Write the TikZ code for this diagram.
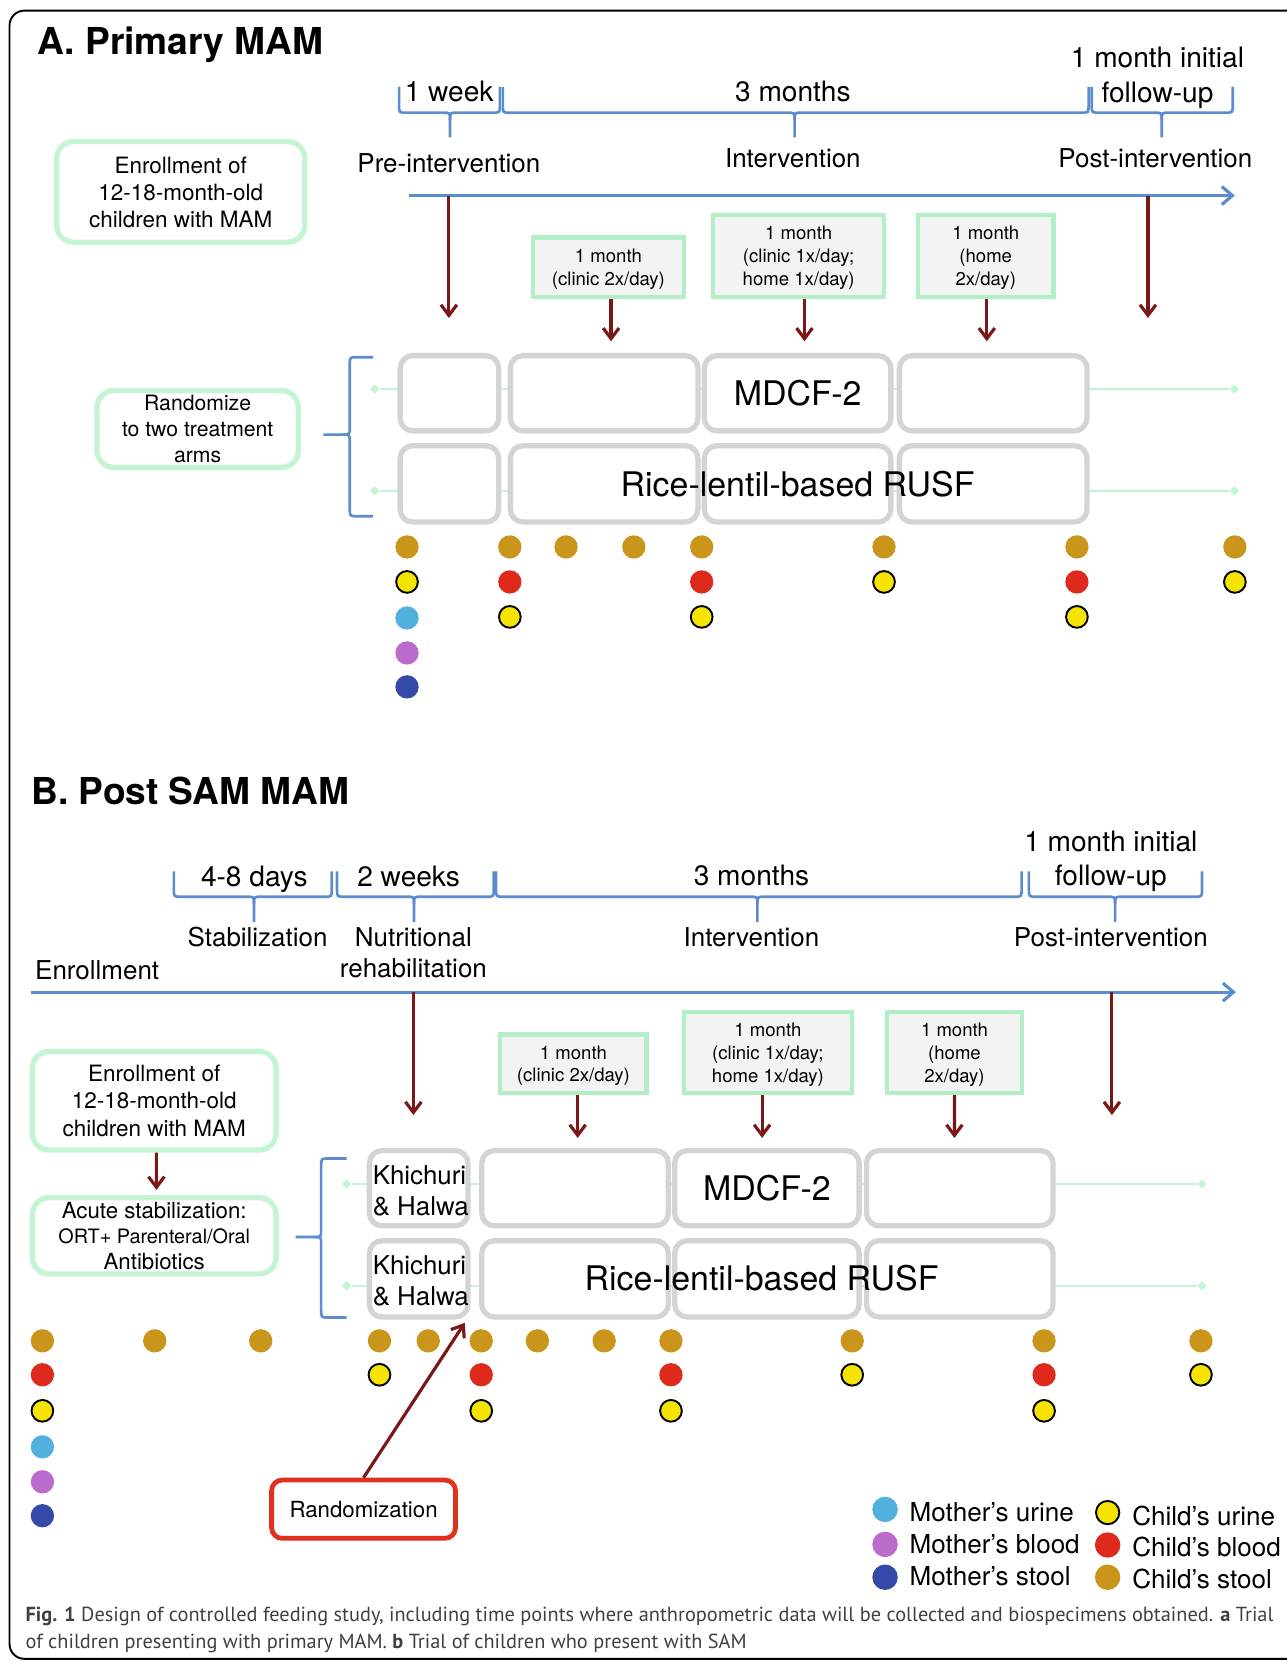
\documentclass[tikz,border=0pt]{standalone}
\usepackage{fontspec}
\setmainfont{TeX Gyre Heros}
\newfontfamily\capfont{PT Sans}
\usetikzlibrary{arrows.meta,shapes.geometric}
\definecolor{bluec}{HTML}{5B8CCB}
\definecolor{darkr}{HTML}{7A1818}
\definecolor{mint}{HTML}{C4F4D3}
\definecolor{mintb}{HTML}{B2EEC6}
\definecolor{boxg}{HTML}{F3F3F3}
\definecolor{greyb}{HTML}{D4D4D4}
\definecolor{gold}{HTML}{C9951A}
\definecolor{redd}{HTML}{DE2A1D}
\definecolor{yel}{HTML}{F5E300}
\definecolor{lblue}{HTML}{52B0DD}
\definecolor{purp}{HTML}{BA6BCB}
\definecolor{dblue}{HTML}{3549A8}
\definecolor{randr}{HTML}{E0301E}
\newcommand{\fz}[2]{\fontsize{#1}{#2}\selectfont}
\newcommand{\hbrace}[6]{%
 \draw[brc] (#1,#4) -- (#1,{#5-7}) .. controls (#1,#5) .. ({#1+7},#5) -- ({#2-7},#5) .. controls (#2,#5) .. (#2,{#5+7}) -- (#2,#6);
 \draw[brc] (#3,#4) -- (#3,{#5-7}) .. controls (#3,#5) .. ({#3-7},#5) -- ({#2+7},#5) .. controls (#2,#5) .. (#2,{#5+7});
}
\newcommand{\vbrace}[6]{%
 \draw[brc] (#1,#4) -- ({#2+7},#4) .. controls (#2,#4) .. (#2,{#4+7}) -- (#2,{#5-7}) .. controls (#2,#5) .. ({#2-7},#5) -- (#3,#5);
 \draw[brc] (#1,#6) -- ({#2+7},#6) .. controls (#2,#6) .. (#2,{#6-7}) -- (#2,{#5+7}) .. controls (#2,#5) .. ({#2-7},#5);
}
\newcommand{\spot}[4]{\node[#2] (#1) at (#3,#4) {};}
\begin{document}
\begin{tikzpicture}[x=1pt,y=-1pt,
 txt/.style={inner sep=0pt, text depth=0pt},
 dur/.style={txt, font=\fz{26.5}{33}, align=center},
 phase/.style={txt, font=\fz{24.5}{29.4}, align=center},
 tl/.style={draw=bluec, line width=3pt, -{Straight Barb[length=10pt,width=17pt]}},
 brc/.style={draw=bluec, line width=2.5pt},
 arr/.style={draw=darkr, line width=3pt, -{Straight Barb[length=10pt,width=15pt]}},
 gline/.style={draw=mint, line width=2pt},
 gdia/.style={diamond, fill=mint, minimum size=9pt, inner sep=0pt},
 tb/.style={draw=greyb, line width=5pt, rounded corners=12pt, fill=white, inner sep=0pt, text depth=0pt, font=\fz{32}{32}},
 mbox/.style={draw=mint, line width=5pt, rounded corners=16pt, fill=white, align=center, inner sep=0pt, text depth=0pt},
 sbox/.style={draw=mintb, line width=4pt, fill=boxg, align=center, inner sep=0pt, text depth=0pt, font=\fz{17.5}{21.5}},
 dotb/.style={circle, minimum size=22pt, inner sep=0pt},
 gd/.style={dotb, fill=gold},
 rd/.style={dotb, fill=redd},
 lb/.style={dotb, fill=lblue},
 pu/.style={dotb, fill=purp},
 db/.style={dotb, fill=dblue},
 yd/.style={dotb, fill=yel, draw=black, line width=1.8pt, minimum size=20.5pt},
 leg/.style={txt, anchor=west, font=\fz{24.6}{24.6}},
 capn/.style={anchor=base west, inner sep=0pt, font=\capfont\fz{19.2}{22}, text=black!75}
]
\useasboundingbox (0,0) rectangle (1214,1568);
\draw[line width=1.8pt, rounded corners=14pt] (9,10) rectangle (1260,1565);

% ---------------- Part A ----------------
\node[txt, anchor=west, font=\fz{35}{35}\bfseries] (titA) at (35,38.3) {A. Primary MAM};

\hbrace{376.5}{424.6}{471.6}{82}{106.3}{129.5}
\hbrace{474.4}{749.7}{1027}{82}{106.3}{129.5}
\hbrace{1030}{1096}{1163}{82}{106.3}{129.5}

\node[dur] (dA1) at (423.7,86.5) {1 week};
\node[dur] (dA2) at (748,86.5) {3 months};
\node[dur] (dA3) at (1092,70.7) {1 month initial\\follow-up};
\node[phase] (pA1) at (423.5,153.5) {Pre-intervention};
\node[phase] (pA2) at (748,149.4) {Intervention};
\node[phase] (pA3) at (1090,149.4) {Post-intervention};

\coordinate (tlA0) at (385.5,184.5);
\coordinate (tlA1) at (1165,184.5);
\draw[tl] (tlA0) -- (tlA1);

\node[mbox, minimum width=234pt, minimum height=95pt, font=\fz{21.2}{25.5}] (eA) at (170.5,181) {Enrollment of\\12-18-month-old\\children with MAM};
\node[mbox, minimum width=190pt, minimum height=72.5pt, font=\fz{20}{24.5}] (rA) at (186.5,404.75) {Randomize\\to two treatment\\arms};

\coordinate (aA1s) at (423.5,184.5);
\coordinate (aA1e) at (423.5,300);
\coordinate (aA2s) at (1083,184.5);
\coordinate (aA2e) at (1083,300);
\draw[arr] (aA1s) -- (aA1e);
\draw[arr] (aA2s) -- (aA2e);

\node[sbox, minimum width=142pt, minimum height=56pt] (sA1) at (574,252) {1 month\\(clinic 2x/day)};
\node[sbox, minimum width=161pt, minimum height=77pt] (sA2) at (753.5,241.5) {1 month\\(clinic 1x/day;\\home 1x/day)};
\node[sbox, minimum width=128pt, minimum height=77pt] (sA3) at (930,241.5) {1 month\\(home\\2x/day)};
\coordinate (eA1) at (576.5,322);
\coordinate (eA2) at (759,322);
\coordinate (eA3) at (931,322);
\draw[arr] ([xshift=2.5pt]sA1.south) -- (eA1);
\draw[arr] ([xshift=5.5pt]sA2.south) -- (eA2);
\draw[arr] ([xshift=1pt]sA3.south) -- (eA3);

\node[gdia] (gA1l) at (353.5,367) {};
\node[gdia] (gA1r) at (1164.6,367) {};
\node[gdia] (gA2l) at (353.5,463) {};
\node[gdia] (gA2r) at (1164.6,463) {};
\draw[gline] (gA1l) -- (gA1r);
\draw[gline] (gA2l) -- (gA2r);

\node[tb, minimum width=93pt, minimum height=71pt] (tA11) at (424,371) {};
\node[tb, minimum width=177pt, minimum height=71pt] (tA12) at (570,371) {};
\node[tb, minimum width=176pt, minimum height=71pt] (tA13) at (752.5,371) {MDCF-2};
\node[tb, minimum width=177pt, minimum height=71pt] (tA14) at (937,371) {};
\node[tb, minimum width=93pt, minimum height=72pt] (tA21) at (424,456.5) {};
\node[tb, minimum width=177pt, minimum height=72pt] (tA22) at (570,456.5) {};
\node[tb, minimum width=176pt, minimum height=72pt] (tA23) at (752.5,456.5) {};
\node[tb, minimum width=177pt, minimum height=72pt] (tA24) at (937,456.5) {};
\node[txt, font=\fz{32}{32}] (riceA) at (752.5,456) {Rice-lentil-based RUSF};

\vbrace{352}{330}{305}{337}{410}{487}

\spot{a11}{gd}{384}{516}
\spot{a12}{yd}{384}{549}
\spot{a13}{lb}{384}{583}
\spot{a14}{pu}{384}{616}
\spot{a15}{db}{384}{648}
\spot{a21}{gd}{481}{516}
\spot{a22}{rd}{481}{549}
\spot{a23}{yd}{481}{582}
\spot{a31}{gd}{534}{516}
\spot{a41}{gd}{598}{516}
\spot{a51}{gd}{662}{516}
\spot{a52}{rd}{662}{549}
\spot{a53}{yd}{662}{582}
\spot{a61}{gd}{834}{516}
\spot{a62}{yd}{834}{549}
\spot{a71}{gd}{1016}{516}
\spot{a72}{rd}{1016}{549}
\spot{a73}{yd}{1016}{582}
\spot{a81}{gd}{1165}{516}
\spot{a82}{yd}{1165}{549}

% ---------------- Part B ----------------
\node[txt, anchor=west, font=\fz{35}{35}\bfseries] (titB) at (29.4,745.8) {B. Post SAM MAM};

\hbrace{164}{239.6}{313}{822}{846}{870}
\hbrace{318}{390.6}{465.8}{822}{846}{870}
\hbrace{468}{714.5}{963.8}{822}{846}{870}
\hbrace{970.7}{1052}{1134}{822}{846}{870}

\node[dur] (dB1) at (240,827) {4-8 days};
\node[dur] (dB2) at (385.5,827) {2 weeks};
\node[dur] (dB3) at (709,825.4) {3 months};
\node[dur, font=\fz{26.5}{32}] (dB4) at (1048,809.4) {1 month initial\\follow-up};
\node[phase] (pB1) at (243,883.6) {Stabilization};
\node[phase] (pB2) at (390,898.3) {Nutritional\\rehabilitation};
\node[phase] (pB3) at (709,883.6) {Intervention};
\node[phase] (pB4) at (1048,883.6) {Post-intervention};
\node[phase, anchor=west] (pB0) at (33,915.6) {Enrollment};

\coordinate (tlB0) at (29,936);
\coordinate (tlB1) at (1166,936);
\draw[tl] (tlB0) -- (tlB1);

\coordinate (aB1s) at (390,936);
\coordinate (aB1e) at (390,1052);
\coordinate (aB2s) at (1049,936);
\coordinate (aB2e) at (1049,1052);
\draw[arr] (aB1s) -- (aB1e);
\draw[arr] (aB2s) -- (aB2e);

\node[sbox, minimum width=138pt, minimum height=55pt] (sB1) at (541,1003.5) {1 month\\(clinic 2x/day)};
\node[sbox, minimum width=159pt, minimum height=76pt] (sB2) at (724.5,993) {1 month\\(clinic 1x/day;\\home 1x/day)};
\node[sbox, minimum width=127pt, minimum height=76pt] (sB3) at (900.5,993) {1 month\\(home\\2x/day)};
\coordinate (eB1) at (545,1073.6);
\coordinate (eB2) at (719,1073.6);
\coordinate (eB3) at (900.4,1073.6);
\draw[arr] ([xshift=4pt]sB1.south) -- (eB1);
\draw[arr] ([xshift=-5.5pt]sB2.south) -- (eB2);
\draw[arr] (sB3.south) -- (eB3);

\node[mbox, minimum width=230pt, minimum height=93pt, font=\fz{21.2}{25.5}] (eB) at (145.5,1038.5) {Enrollment of\\12-18-month-old\\children with MAM};
\node[mbox, minimum width=230pt, minimum height=72pt, font=\fz{21}{24.3}] (acB) at (145.5,1165.9) {Acute stabilization:\\\fz{18.7}{24.3}ORT+ Parenteral/Oral\\Antibiotics};
\coordinate (acBe) at (147.6,1122.6);
\draw[arr] ([xshift=2pt]eB.south) -- (acBe);

\node[gdia] (gB1l) at (327,1117) {};
\node[gdia] (gB1r) at (1134,1117) {};
\node[gdia] (gB2l) at (327,1213) {};
\node[gdia] (gB2r) at (1134,1213) {};
\draw[gline] (gB1l) -- (gB1r);
\draw[gline] (gB2l) -- (gB2r);

\node[tb, minimum width=93pt, minimum height=71pt] (tB11) at (395,1121) {};
\node[tb, minimum width=176pt, minimum height=71pt] (tB12) at (542.5,1121) {};
\node[tb, minimum width=174pt, minimum height=71pt] (tB13) at (723.5,1121) {MDCF-2};
\node[tb, minimum width=176pt, minimum height=71pt] (tB14) at (905.5,1121) {};
\node[tb, minimum width=93pt, minimum height=72pt] (tB21) at (395,1206.5) {};
\node[tb, minimum width=176pt, minimum height=72pt] (tB22) at (542.5,1206.5) {};
\node[tb, minimum width=174pt, minimum height=72pt] (tB23) at (723.5,1206.5) {};
\node[tb, minimum width=176pt, minimum height=72pt] (tB24) at (905.5,1206.5) {};
\node[txt, font=\fz{32}{32}] (riceB) at (718.5,1206) {Rice-lentil-based RUSF};
\node[txt, anchor=west, align=left, font=\fz{24.4}{29.8}] (khB1) at (351.5,1123.4) {Khichuri\\\& Halwa};
\node[txt, anchor=west, align=left, font=\fz{24.4}{29.8}] (khB2) at (351.5,1208) {Khichuri\\\& Halwa};

\vbrace{327}{303}{279}{1093}{1167}{1243}

\spot{b11}{gd}{40}{1265}
\spot{b12}{rd}{40}{1297}
\spot{b13}{yd}{40}{1331}
\spot{b14}{lb}{40}{1365}
\spot{b15}{pu}{40}{1398}
\spot{b16}{db}{40}{1430}
\spot{b21}{gd}{146}{1265}
\spot{b31}{gd}{246}{1265}
\spot{b41}{gd}{358}{1265}
\spot{b42}{yd}{358}{1297}
\spot{b51}{gd}{404}{1265}
\spot{b61}{gd}{454}{1265}
\spot{b62}{rd}{454}{1297}
\spot{b63}{yd}{454}{1331}
\spot{b71}{gd}{507}{1265}
\spot{b81}{gd}{570}{1265}
\spot{b91}{gd}{633}{1265}
\spot{b92}{rd}{633}{1297}
\spot{b93}{yd}{633}{1331}
\spot{b101}{gd}{804}{1265}
\spot{b102}{yd}{804}{1297}
\spot{b111}{gd}{985}{1265}
\spot{b112}{rd}{985}{1297}
\spot{b113}{yd}{985}{1331}
\spot{b121}{gd}{1133}{1265}
\spot{b122}{yd}{1133}{1297}

\node[draw=randr, line width=4.5pt, rounded corners=10pt, fill=white, minimum width=173.5pt, minimum height=55pt, inner sep=0pt, text depth=0pt, font=\fz{21}{21}] (rnd) at (343,1423.8) {Randomization};
\coordinate (rndE) at (438.5,1248);
\draw[arr] (rnd.north) -- (rndE);

% legend
\spot{l1}{lb,minimum size=24pt}{835}{1424}
\spot{l2}{pu,minimum size=24pt}{835}{1457}
\spot{l3}{db,minimum size=24pt}{835}{1488}
\spot{l4}{yd,minimum size=22pt}{1045}{1427}
\spot{l5}{rd,minimum size=24pt}{1045}{1457.6}
\spot{l6}{gd,minimum size=24pt}{1045}{1488}
\node[leg] (lg1) at (858,1426) {Mother’s urine};
\node[leg] (lg2) at (858,1456.6) {Mother’s blood};
\node[leg] (lg3) at (858,1486.7) {Mother’s stool};
\node[leg] (lg4) at (1068,1430) {Child’s urine};
\node[leg] (lg5) at (1068,1459) {Child’s blood};
\node[leg] (lg6) at (1068,1489) {Child’s stool};

% caption
\node[capn] (cap1) at (24,1530) {\textbf{Fig. 1} Design of controlled feeding study, including time points where anthropometric data will be collected and biospecimens obtained. \textbf{a} Trial};
\node[capn] (cap2) at (24,1555) {of children presenting with primary MAM. \textbf{b} Trial of children who present with SAM};
\end{tikzpicture}
\end{document}
